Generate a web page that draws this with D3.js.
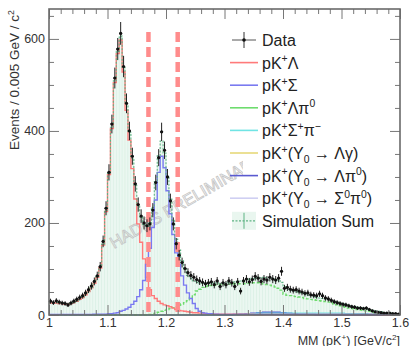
<!DOCTYPE html>
<html>
<head>
<meta charset="utf-8">
<script src="https://cdn.jsdelivr.net/npm/d3@7"></script>
<style>
  html, body { margin: 0; padding: 0; background: #fff; }
  svg { font-family: "Liberation Sans", Arial, sans-serif; }
</style>
</head>
<body>
<div id="chart"></div>
<script>
// bins of 0.005 GeV/c2 from 1.0 to 1.6
const binStart = 1.0;
const binWidth = 0.005;

const dataCounts = [
  30, 27, 31, 28, 26, 25, 22, 26, 30, 34,
  38, 42, 48, 55, 63, 73, 85, 105, 160, 232,
  310, 415, 515, 578, 612, 540, 460, 400, 345, 285,
  240, 215, 200, 194, 198, 228, 288, 342, 398, 358,
  300, 248, 198, 155, 130, 114, 101, 92, 86, 82,
  77, 74, 71, 68, 70, 72, 66, 74, 62, 70,
  66, 74, 70, 62, 72, 52, 74, 78, 72, 77,
  84, 80, 73, 78, 76, 82, 78, 76, 80, 95,
  58, 60, 56, 54, 55, 52, 50, 47, 48, 44,
  43, 42, 46, 42, 37, 35, 32, 29, 27, 25,
  23, 22, 20, 18, 17, 15, 15, 14, 15, 12,
  9, 7, 6, 5, 4, 4, 4, 3, 3, 2
];

const simLambda = [
  26, 26, 26, 25, 25, 24, 24, 25, 27, 30,
  34, 38, 44, 51, 59, 69, 82, 102, 152, 225,
  305, 405, 505, 568, 598, 528, 445, 380, 318, 252,
  198, 158, 122, 82, 55, 42, 36, 30, 25, 22,
  20, 18, 15, 12, 10, 9, 8, 7, 6, 5,
  5, 4, 4, 3, 3, 3, 2, 2, 2, 2,
  2, 2, 2, 2, 2, 2, 2, 2, 2, 2,
  1, 1, 1, 1, 1, 1, 1, 1, 1, 1,
  1, 1, 1, 1, 1, 1, 1, 1, 1, 1,
  1, 1, 1, 1, 1, 1, 1, 1, 1, 1,
  1, 1, 1, 1, 1, 1, 1, 1, 1, 1,
  1, 1, 1, 1, 0, 0, 0, 0, 0, 0
];

const simSigma = [
  1, 1, 1, 1, 1, 1, 1, 1, 1, 1,
  1, 1, 1, 1, 1, 2, 2, 2, 2, 2,
  3, 3, 4, 5, 8, 10, 13, 17, 23, 30,
  40, 55, 75, 110, 145, 190, 250, 310, 345, 320,
  270, 220, 175, 135, 110, 85, 65, 48, 36, 25,
  14, 8, 5, 4, 3, 3, 2, 2, 1, 1,
  1, 1, 1, 1, 1, 1, 1, 1, 1, 1,
  1, 1, 1, 1, 1, 1, 1, 1, 1, 1,
  1, 1, 1, 1, 1, 1, 1, 1, 1, 1,
  1, 1, 1, 1, 1, 1, 1, 1, 1, 1,
  1, 1, 1, 1, 1, 1, 1, 1, 1, 1,
  1, 1, 1, 1, 1, 1, 1, 1, 1, 1
];

const simLambdaPi0 = [
  0, 0, 0, 0, 0, 0, 0, 0, 0, 0,
  0, 0, 0, 0, 0, 0, 0, 0, 0, 0,
  0, 0, 0, 0, 0, 0, 0, 0, 0, 0,
  0, 0, 0, 0, 1, 2, 4, 6, 8, 10,
  12, 14, 16, 18, 21, 24, 27, 31, 38, 44,
  52, 56, 60, 62, 63, 64, 65, 66, 66, 66,
  66, 67, 67, 68, 68, 68, 68, 69, 69, 70,
  70, 70, 69, 67, 66, 65, 63, 61, 58, 54,
  45, 43, 42, 41, 40, 39, 38, 36, 35, 34,
  33, 32, 31, 30, 29, 28, 26, 24, 22, 20,
  18, 17, 15, 14, 13, 12, 11, 10, 9, 8,
  6, 5, 4, 3, 2, 2, 2, 1, 1, 1
];

const simSigmaPi = [
  0, 0, 0, 0, 0, 0, 0, 0, 0, 0,
  0, 0, 0, 0, 0, 0, 0, 0, 0, 0,
  0, 0, 0, 0, 0, 0, 0, 0, 0, 0,
  0, 0, 0, 0, 0, 0, 0, 0, 0, 0,
  0, 0, 0, 0, 0, 0, 0, 0, 0, 0,
  0, 0, 0, 0, 0, 0, 0, 0, 0, 0,
  0, 0, 0, 0, 1, 1, 2, 2, 3, 3,
  3, 4, 4, 4, 4, 4, 4, 4, 4, 4,
  4, 4, 4, 4, 4, 4, 4, 4, 4, 4,
  4, 4, 4, 4, 4, 4, 4, 4, 4, 4,
  4, 3, 3, 3, 3, 3, 3, 3, 3, 2,
  2, 2, 2, 2, 2, 1, 1, 1, 1, 1
];

const simYLambdaGamma = [
  0, 0, 0, 0, 0, 0, 0, 0, 0, 0,
  0, 0, 0, 0, 0, 0, 0, 0, 0, 0,
  0, 0, 0, 0, 0, 0, 0, 0, 0, 0,
  0, 0, 0, 0, 0, 0, 0, 0, 0, 0,
  0, 0, 0, 0, 0, 0, 0, 0, 0, 0,
  0, 0, 0, 0, 0, 0, 0, 0, 0, 0,
  0, 0, 0, 0, 0, 0, 0, 0, 0, 0,
  0, 0, 0, 1, 1, 1, 2, 2, 2, 2,
  2, 1, 1, 1, 0, 0, 0, 0, 0, 0,
  0, 0, 0, 0, 0, 0, 0, 0, 0, 0,
  0, 0, 0, 0, 0, 0, 0, 0, 0, 0,
  0, 0, 0, 0, 0, 0, 0, 0, 0, 0
];

const simYLambdaPi0 = [
  0, 0, 0, 0, 0, 0, 0, 0, 0, 0,
  0, 0, 0, 0, 0, 0, 0, 0, 0, 0,
  0, 0, 0, 0, 0, 0, 0, 0, 0, 0,
  0, 0, 0, 0, 0, 0, 0, 0, 0, 0,
  0, 0, 0, 0, 0, 0, 0, 0, 0, 0,
  0, 0, 0, 0, 0, 0, 0, 0, 0, 0,
  0, 0, 0, 1, 1, 2, 2, 3, 3, 4,
  4, 5, 5, 6, 6, 6, 6, 6, 6, 5,
  5, 4, 4, 3, 3, 2, 2, 2, 1, 1,
  1, 0, 0, 0, 0, 0, 0, 0, 0, 0,
  0, 0, 0, 0, 0, 0, 0, 0, 0, 0,
  0, 0, 0, 0, 0, 0, 0, 0, 0, 0
];

const simYSigmaPi0 = [
  0, 0, 0, 0, 0, 0, 0, 0, 0, 0,
  0, 0, 0, 0, 0, 0, 0, 0, 0, 0,
  0, 0, 0, 0, 0, 0, 0, 0, 0, 0,
  0, 0, 0, 0, 0, 0, 0, 0, 0, 0,
  0, 0, 0, 0, 0, 0, 0, 0, 0, 0,
  0, 0, 0, 0, 0, 0, 0, 0, 0, 0,
  0, 0, 0, 0, 0, 0, 0, 0, 0, 0,
  0, 1, 1, 2, 2, 3, 3, 3, 4, 4,
  4, 4, 3, 3, 3, 2, 2, 2, 1, 1,
  1, 0, 0, 0, 0, 0, 0, 0, 0, 0,
  0, 0, 0, 0, 0, 0, 0, 0, 0, 0,
  0, 0, 0, 0, 0, 0, 0, 0, 0, 0
];

// cut window (dashed lines)
const cutValues = [1.17, 1.22];
const cutTop = 615;

const xTickValues = [1, 1.1, 1.2, 1.3, 1.4, 1.5, 1.6];
const xTickLabels = ["1", "1.1", "1.2", "1.3", "1.4", "1.5", "1.6"];
const yTickValues = [0, 200, 400, 600];
const yTickLabels = ["0", "200", "400", "600"];

const components = [
  { values: simYSigmaPi0, color: "#cfcff2", label: [["pK"], ["+", "sup"], ["(Y"], ["0", "sub"], [" \u2192  \u03A3"], ["0", "sup"], ["\u03C0"], ["0", "sup"], [")"]] },
  { values: simYLambdaGamma, color: "#e6d97a", label: [["pK"], ["+", "sup"], ["(Y"], ["0", "sub"], [" \u2192  \u039B\u03B3)"]] },
  { values: simYLambdaPi0, color: "#5a5ad0", label: [["pK"], ["+", "sup"], ["(Y"], ["0", "sub"], [" \u2192  \u039B\u03C0"], ["0", "sup"], [")"]] },
  { values: simSigmaPi, color: "#70e4e4", label: [["pK"], ["+", "sup"], ["\u03A3"], ["+", "sup"], ["\u03C0"], ["\u2212", "sup"]] },
  { values: simLambdaPi0, color: "#6edc6e", dash: "3,2", label: [["pK"], ["+", "sup"], ["\u039B\u03C0"], ["0", "sup"]] },
  { values: simLambda, color: "#ff7a7a", label: [["pK"], ["+", "sup"], ["\u039B"]] },
  { values: simSigma, color: "#7a7af0", label: [["pK"], ["+", "sup"], ["\u03A3"]] }
];

const legendOrder = [5, 6, 4, 3, 1, 2, 0];

const width = 410, height = 346;
const x = d3.scaleLinear().domain([1, 1.6]).range([49, 400]);
const y = d3.scaleLinear().domain([0, 665]).range([315, 9]);

const svg = d3.select("#chart").append("svg")
  .attr("width", width)
  .attr("height", height);

function richText(sel, segs, size) {
  let shift = 0;
  segs.forEach(([t, mode]) => {
    const target = mode === "sup" ? -0.4 * size : mode === "sub" ? 0.25 * size : 0;
    sel.append("tspan")
      .attr("dy", target - shift)
      .attr("font-size", mode ? size * 0.65 : size)
      .text(t);
    shift = target;
  });
}

const edge = i => binStart + i * binWidth;
const sumValues = dataCounts.map((_, i) => d3.sum(components, c => c.values[i]));

// simulation sum: filled boxes
svg.append("g")
  .selectAll("rect")
  .data(sumValues)
  .join("rect")
  .attr("x", (d, i) => x(edge(i)))
  .attr("y", d => y(d))
  .attr("width", x(edge(1)) - x(edge(0)))
  .attr("height", d => y(0) - y(d))
  .attr("fill", "#ebf7f1")
  .attr("stroke", "#d6eee2")
  .attr("stroke-width", 0.5);

// watermark
svg.append("text")
  .attr("transform", "translate(114,249) rotate(-30)")
  .attr("font-size", 16.5)
  .attr("fill", "none")
  .attr("stroke", "#c4c4c4")
  .attr("stroke-width", 0.8)
  .text("HADES PRELIMINARY");

const stepLine = d3.line()
  .x(d => x(d[0]))
  .y(d => y(d[1]))
  .curve(d3.curveStepAfter);

const stepPoints = vals => vals.map((v, i) => [edge(i), v]).concat([[edge(vals.length), vals[vals.length - 1]]]);

components.forEach(c => {
  svg.append("path")
    .attr("d", stepLine(stepPoints(c.values)))
    .attr("fill", "none")
    .attr("stroke", c.color)
    .attr("stroke-width", 1.4)
    .attr("stroke-dasharray", c.dash || null);
});

// sum outline
svg.append("path")
  .attr("d", stepLine(stepPoints(sumValues)))
  .attr("fill", "none")
  .attr("stroke", "#5fb384")
  .attr("stroke-width", 1.1)
  .attr("stroke-dasharray", "2,1.5");

// cut lines
svg.append("g")
  .selectAll("line")
  .data(cutValues)
  .join("line")
  .attr("x1", d => x(d))
  .attr("x2", d => x(d))
  .attr("y1", y(cutTop))
  .attr("y2", y(0))
  .attr("stroke", "#ff8c8c")
  .attr("stroke-width", 4.5)
  .attr("stroke-dasharray", "10,5");

// data points with errors
const half = (x(edge(1)) - x(edge(0))) / 2;
const pts = svg.append("g")
  .selectAll("g")
  .data(dataCounts)
  .join("g");
pts.append("line")
  .attr("x1", (d, i) => x(edge(i + 0.5)))
  .attr("x2", (d, i) => x(edge(i + 0.5)))
  .attr("y1", d => y(d + Math.sqrt(d)))
  .attr("y2", d => y(Math.max(0, d - Math.sqrt(d))))
  .attr("stroke", "#222")
  .attr("stroke-width", 1);
pts.append("line")
  .attr("x1", (d, i) => x(edge(i + 0.5)) - half)
  .attr("x2", (d, i) => x(edge(i + 0.5)) + half)
  .attr("y1", d => y(d))
  .attr("y2", d => y(d))
  .attr("stroke", "#222")
  .attr("stroke-width", 1);
pts.append("circle")
  .attr("cx", (d, i) => x(edge(i + 0.5)))
  .attr("cy", d => y(d))
  .attr("r", 1.6)
  .attr("fill", "#111");

// legend
const legX = 230, legTxt = 262, legY0 = 40, legStep = 22.6, legFont = 16;
svg.append("rect")
  .attr("x", 243).attr("y", 26)
  .attr("width", 150).attr("height", 208)
  .attr("fill", "#fff");

const leg = svg.append("g");
// data entry
leg.append("line").attr("x1", legX + 2).attr("x2", legX + 26).attr("y1", legY0).attr("y2", legY0)
  .attr("stroke", "#555").attr("stroke-width", 1);
leg.append("line").attr("x1", legX + 14).attr("x2", legX + 14).attr("y1", legY0 - 8).attr("y2", legY0 + 8)
  .attr("stroke", "#333").attr("stroke-width", 1);
leg.append("circle").attr("cx", legX + 14).attr("cy", legY0).attr("r", 1.8).attr("fill", "#111");
leg.append("text").attr("x", legTxt).attr("y", legY0 + 6).attr("font-size", legFont).attr("fill", "#222").text("Data");

legendOrder.forEach((ci, k) => {
  const c = components[ci];
  const yy = legY0 + legStep * (k + 1);
  leg.append("line").attr("x1", legX).attr("x2", legX + 28).attr("y1", yy).attr("y2", yy)
    .attr("stroke", c.color).attr("stroke-width", 1.6);
  const t = leg.append("text").attr("x", legTxt).attr("y", yy + 6).attr("fill", "#222").attr("font-size", legFont);
  richText(t, c.label, legFont);
});

const ySum = legY0 + legStep * 8;
leg.append("rect").attr("x", legX + 2).attr("y", ySum - 9).attr("width", 24).attr("height", 18)
  .attr("fill", "#e9f6ef");
leg.append("line").attr("x1", legX + 2).attr("x2", legX + 26).attr("y1", ySum).attr("y2", ySum)
  .attr("stroke", "#5fb384").attr("stroke-width", 1.2).attr("stroke-dasharray", "2,1.5");
leg.append("line").attr("x1", legX + 14).attr("x2", legX + 14).attr("y1", ySum - 8).attr("y2", ySum + 8)
  .attr("stroke", "#5fb384").attr("stroke-width", 1);
leg.append("text").attr("x", legTxt).attr("y", ySum + 6).attr("font-size", legFont).attr("fill", "#222").text("Simulation Sum");

// axes (ticks inside the frame)
const xMinor = d3.range(1, 1.6001, 0.02).filter(v => Math.abs(v * 10 - Math.round(v * 10)) > 1e-6);
const yMinor = d3.range(0, 665, 50).filter(v => v % 200 !== 0);

const axes = svg.append("g").attr("font-size", 13).attr("fill", "#333");
axes.append("g").attr("transform", `translate(0,${y(0)})`)
  .call(d3.axisBottom(x).tickValues(xTickValues).tickSize(-10).tickPadding(3).tickFormat((d, i) => xTickLabels[i]));
axes.append("g").attr("transform", `translate(0,${y(0)})`)
  .call(d3.axisBottom(x).tickValues(xMinor).tickSize(-5).tickFormat(""));
axes.append("g").attr("transform", `translate(0,${y(665)})`)
  .call(d3.axisTop(x).tickValues(xTickValues).tickSize(-10).tickFormat(""));
axes.append("g").attr("transform", `translate(0,${y(665)})`)
  .call(d3.axisTop(x).tickValues(xMinor).tickSize(-5).tickFormat(""));
axes.append("g").attr("transform", `translate(${x(1)},0)`)
  .call(d3.axisLeft(y).tickValues(yTickValues).tickSize(-10).tickPadding(4).tickFormat((d, i) => yTickLabels[i]));
axes.append("g").attr("transform", `translate(${x(1)},0)`)
  .call(d3.axisLeft(y).tickValues(yMinor).tickSize(-5).tickFormat(""));
axes.append("g").attr("transform", `translate(${x(1.6)},0)`)
  .call(d3.axisRight(y).tickValues(yTickValues).tickSize(-10).tickFormat(""));
axes.append("g").attr("transform", `translate(${x(1.6)},0)`)
  .call(d3.axisRight(y).tickValues(yMinor).tickSize(-5).tickFormat(""));

axes.selectAll(".domain").remove();
axes.selectAll(".tick line").attr("stroke", "#777");
axes.selectAll(".tick text").attr("fill", "#333").attr("font-size", 12.5)
  .attr("font-family", "'Liberation Sans', Arial, sans-serif");

// frame
svg.append("rect")
  .attr("x", x(1)).attr("y", y(665))
  .attr("width", x(1.6) - x(1)).attr("height", y(0) - y(665))
  .attr("fill", "none").attr("stroke", "#6a6a6a").attr("stroke-width", 1.6);

// axis titles
const yTitle = svg.append("text")
  .attr("transform", `translate(19,10) rotate(-90)`)
  .attr("text-anchor", "end")
  .attr("font-size", 13.5)
  .attr("fill", "#333");
richText(yTitle, [["Events / 0.005 GeV / c"], ["2", "sup"]], 13.5);

const xTitle = svg.append("text")
  .attr("x", 400).attr("y", 344.5)
  .attr("text-anchor", "end")
  .attr("font-size", 12.5)
  .attr("fill", "#333");
richText(xTitle, [["MM (pK"], ["+", "sup"], [") [GeV/c"], ["2", "sup"], ["]"]], 12.5);
</script>
</body>
</html>
